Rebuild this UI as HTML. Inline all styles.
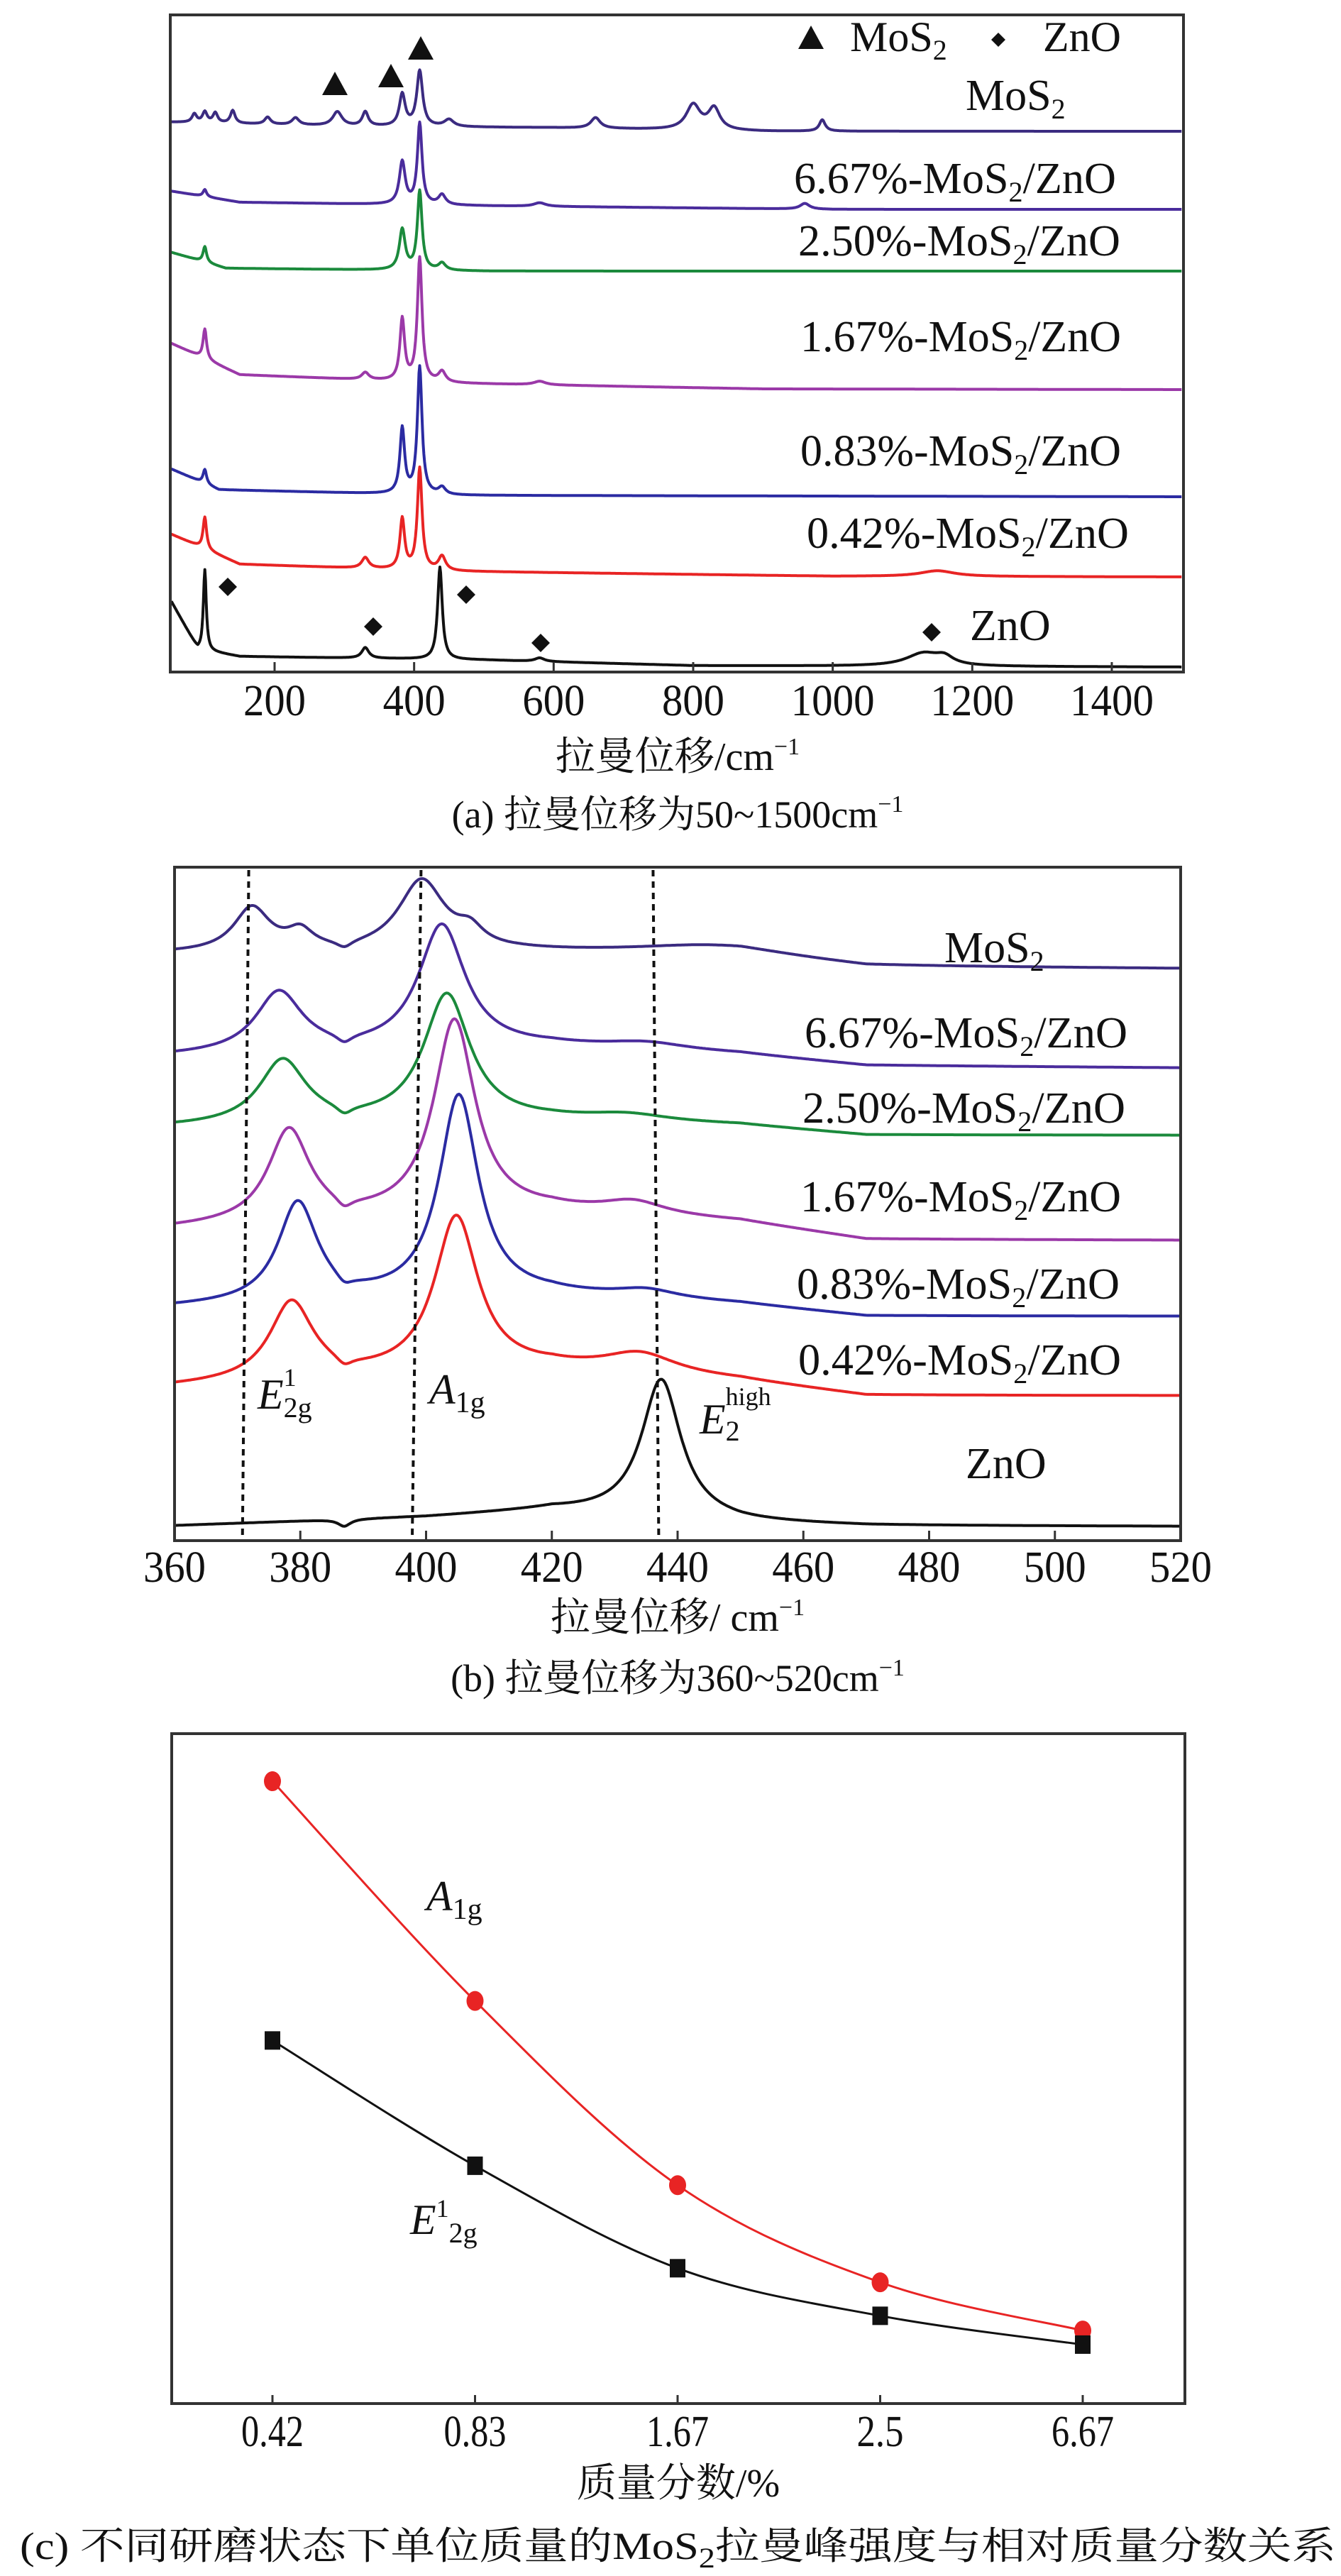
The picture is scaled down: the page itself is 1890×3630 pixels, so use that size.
<!DOCTYPE html>
<html><head><meta charset="utf-8">
<style>
html,body{margin:0;padding:0;background:#fff;}
svg{display:block;}
text{font-family:"Liberation Serif","Noto Serif CJK SC","Noto Sans CJK SC",serif;fill:#111;}
</style></head>
<body>
<svg id="fig" width="1890" height="3630" viewBox="0 0 1890 3630" xmlns="http://www.w3.org/2000/svg">
<rect width="1890" height="3630" fill="#fff"/>
<g id="pa"></g>
<g id="pb"></g>
<g id="pc"></g>
</svg>
<script>
// ---------- Panel A data ----------
const aTicks = [200,400,600,800,1000,1200,1400];
const aNames = ["MoS2","6.67%","2.50%","1.67%","0.83%","0.42%","ZnO"];
const aColors = ["#3b2b80","#4a2c9c","#1b8a3c","#9b39a8","#2b2ba2","#e82424","#111111"];
// baseline points [wavenumber, y]
const aBase = [
 [[50,172],[300,178],[600,180],[900,185],[1500,185]],
 [[50,269],[150,285],[500,290],[1000,295],[1500,295]],
 [[50,355],[130,378],[500,382],[1500,382]],
 [[50,483],[150,528],[450,540],[900,548],[1500,549]],
 [[50,660],[120,690],[450,698],[1500,700]],
 [[50,752],[150,795],[450,805],[1000,812],[1500,813]],
 [[50,844],[90,915],[150,925],[500,930],[800,938],[1500,940]]
];
// peaks [position, height, halfwidth]
const aPeaks = [
 [[85,12,4],[100,15,4],[115,14,4],[140,18,4],[190,10,5],[230,10,6],[290,20,8],[330,20,5],[383,45,5],[408,78,5],[450,10,8],[660,15,8],[800,35,12],[830,30,10],[985,16,5]],
 [[100,10,3],[383,60,5],[408,114,4],[440,14,6],[580,5,10],[960,8,8]],
 [[100,22,3],[383,57,5],[408,111,4],[440,10,6]],
 [[100,42,3],[330,10,6],[383,87,4],[408,174,4],[440,15,6],[580,5,10]],
 [[100,20,3],[383,92,4],[408,179,4],[440,10,6]],
 [[100,45,3],[330,15,6],[383,71,4],[408,143,4],[440,20,6],[1150,8,30]],
 [[100,114,2.5],[330,15,6],[437,130,4],[580,5,8],[1130,18,30],[1160,10,15]]
];
// ---------- Panel B data ----------
const bTicks = [360,380,400,420,440,460,480,500,520];
const bNames = ["MoS2","6.67%","2.50%","1.67%","0.83%","0.42%","ZnO"];
const bBase = [
 [[360,1344],[415,1342],[450,1345],[470,1362],[520,1365]],
 [[360,1489],[420,1476],[450,1486],[470,1502],[520,1505]],
 [[360,1589],[420,1580],[450,1586],[470,1600],[520,1600]],
 [[360,1732],[420,1708],[450,1722],[470,1747],[520,1748]],
 [[360,1843],[420,1826],[450,1838],[470,1855],[520,1855]],
 [[360,1955],[420,1930],[450,1946],[470,1967],[520,1967]],
 [[360,2150],[400,2138],[420,2128],[450,2146],[470,2150],[520,2151]]
];
const bPeaks = [
 [[372.3,62,3.5],[380,25,2.5],[387,-10,1.5],[399.3,100,4.5],[407,22,2.5],[445,12,15]],
 [[376.6,85,4.5],[387,-12,1.5],[402.5,175,4.5],[435,10,8]],
 [[377.2,90,4.5],[387,-12,1.5],[403.3,180,4.5],[432,10,8]],
 [[378.2,130,4],[387,-14,1.5],[404.5,275,4],[433,18,6]],
 [[379.6,140,3.8],[387,-12,1.5],[405.2,285,3.8],[435,12,6]],
 [[378.6,110,4.2],[387,-12,1.5],[404.8,220,4.2],[434,28,7]],
 [[387,-10,1.2],[437.4,195,3.8]]
];
const bDash = [[371.8,370.8],[399.2,397.8],[436.1,437.0]];
// ---------- Panel C data ----------
const cCats = ["0.42","0.83","1.67","2.5","6.67"];
const cA1g = [92.9,60.1,32.6,18.1,10.9];
const cE2g = [54.2,35.5,20.2,13.1,8.8];

const NS="http://www.w3.org/2000/svg";
function mk(parent,tag,attrs){const e=document.createElementNS(NS,tag);for(const k in attrs)e.setAttribute(k,attrs[k]);parent.appendChild(e);return e;}
function interp(pts,x){if(x<=pts[0][0])return pts[0][1];for(let i=1;i<pts.length;i++){if(x<=pts[i][0]){const t=(x-pts[i-1][0])/(pts[i][0]-pts[i-1][0]);return pts[i-1][1]+t*(pts[i][1]-pts[i-1][1]);}}return pts[pts.length-1][1];}
function lor(peaks,x){let s=0;for(const p of peaks){const d=(x-p[0])/p[2];s+=p[1]/(1+d*d);}return s;}
function txt(parent,x,y,str,size,opts){const t=mk(parent,'text',Object.assign({x:x,y:y,'font-size':size},opts||{}));t.innerHTML=str;return t;}
const sub2=(s,rest)=>`<tspan dy="12" font-size="40">${s}</tspan><tspan dy="-12">${rest||''}</tspan>`;

// ================= PANEL A =================
(function(){
 const g=document.getElementById('pa');
 const X=v=>387+(v-200)*0.9833;
 const L=240,R=1668,T=21,B=947;
 for(let s=0;s<aBase.length;s++){
  let d='';
  for(let v=52;v<=1500;v+=1){const y=interp(aBase[s],v)-lor(aPeaks[s],v);d+=(v===52?'M':'L')+X(v).toFixed(1)+','+y.toFixed(1);}
  const p=mk(g,'path',{d:d,fill:'none',stroke:aColors[s],'stroke-width':4,'stroke-linejoin':'round'});
  
  
 }
 const box=mk(g,'rect',{x:L,y:T,width:R-L,height:B-T,fill:'none',stroke:'#333',"stroke-width":4});
 
 for(const t of aTicks){
  const tk=mk(g,'line',{x1:X(t),x2:X(t),y1:B,y2:B-14,stroke:'#333','stroke-width':3});
  
  const w=t>=1000?118:88;
  const lb=txt(g,X(t),1008,String(t),62,{'text-anchor':'middle',textLength:w,lengthAdjust:'spacingAndGlyphs'});
  
 }
 const tri=[[472,119],[551,108],[593,69],[1143,54]];
 for(const m of tri){const e=mk(g,'path',{d:`M${m[0]},${m[1]-18}L${m[0]+18},${m[1]+15}L${m[0]-18},${m[1]+15}Z`,fill:'#111'});}
 const dia=[[321,827],[526,883],[657,838],[762,906],[1313,891],[1407,56]];
 for(const m of dia){const r=m[1]===56?10:13;const e=mk(g,'path',{d:`M${m[0]},${m[1]-r}L${m[0]+r},${m[1]}L${m[0]},${m[1]+r}L${m[0]-r},${m[1]}Z`,fill:'#111'});}
 let t;
 t=txt(g,1198,72,'MoS'+sub2('2'),60,{});
 t=txt(g,1470,72,'ZnO',60,{textLength:110,lengthAdjust:'spacingAndGlyphs'});
 const lab=[[1361,155,'MoS'+sub2('2'),null],[1119,272,'6.67%-MoS'+sub2('2','/ZnO'),454],[1125,360,'2.50%-MoS'+sub2('2','/ZnO'),454],[1128,495,'1.67%-MoS'+sub2('2','/ZnO'),452],[1128,656,'0.83%-MoS'+sub2('2','/ZnO'),452],[1137,772,'0.42%-MoS'+sub2('2','/ZnO'),454],[1367,902,'ZnO',null]];
 for(const l of lab){const o=l[3]?{textLength:l[3],lengthAdjust:'spacingAndGlyphs'}:{};t=txt(g,l[0],l[1],l[2],62,o);}
 t=txt(g,955,1085,'拉曼位移/cm<tspan dy="-22" font-size="34">−1</tspan>',56,{'text-anchor':'middle'});
 t=txt(g,955,1166,'(a) 拉曼位移为50~1500cm<tspan dy="-22" font-size="34">−1</tspan>',54,{'text-anchor':'middle'});
})();

// ================= PANEL B =================
(function(){
 const g=document.getElementById('pb');
 const X=v=>246+(v-360)*8.8625;
 const L=246,R=1664,T=1222,B=2171;
 for(let s=0;s<bBase.length;s++){
  let d='';
  for(let v=360;v<=520;v+=0.25){const y=interp(bBase[s],v)-lor(bPeaks[s],v);d+=(v===360?'M':'L')+X(v).toFixed(1)+','+y.toFixed(1);}
  const p=mk(g,'path',{d:d,fill:'none',stroke:aColors[s],'stroke-width':4,'stroke-linejoin':'round'});
  
  
 }
 for(const dl of bDash){const e=mk(g,'line',{x1:X(dl[0]),y1:T+4,x2:X(dl[1]),y2:B-4,stroke:'#111','stroke-width':4,'stroke-dasharray':'9 7'});}
 const box=mk(g,'rect',{x:L,y:T,width:R-L,height:B-T,fill:'none',stroke:'#333',"stroke-width":4});
 
 for(const t of bTicks){
  const tk=mk(g,'line',{x1:X(t),x2:X(t),y1:B,y2:B-14,stroke:'#333','stroke-width':3});
  
  const lb=txt(g,X(t),2229,String(t),62,{'text-anchor':'middle',textLength:88,lengthAdjust:'spacingAndGlyphs'});
  
 }
 let t;
 const lab=[[1331,1356,'MoS'+sub2('2'),null],[1134,1476,'6.67%-MoS'+sub2('2','/ZnO'),455],[1131,1582,'2.50%-MoS'+sub2('2','/ZnO'),455],[1128,1707,'1.67%-MoS'+sub2('2','/ZnO'),452],[1123,1830,'0.83%-MoS'+sub2('2','/ZnO'),455],[1125,1937,'0.42%-MoS'+sub2('2','/ZnO'),455],[1361,2083,'ZnO',null]];
 for(const l of lab){const o=l[3]?{textLength:l[3],lengthAdjust:'spacingAndGlyphs'}:{};t=txt(g,l[0],l[1],l[2],62,o);}
 t=txt(g,363,1985,'<tspan font-style="italic">E</tspan><tspan dy="12" font-size="40">2g</tspan><tspan dx="-40" dy="-44" font-size="36">1</tspan>',60,{});
 t=txt(g,605,1978,'<tspan font-style="italic">A</tspan><tspan dy="12" font-size="42">1g</tspan>',60,{});
 t=txt(g,986,2020,'<tspan font-style="italic">E</tspan><tspan dy="10" font-size="40">2</tspan><tspan dx="-20" dy="-50" font-size="36">high</tspan>',60,{});
 t=txt(g,955,2298,'拉曼位移/ cm<tspan dy="-22" font-size="34">−1</tspan>',56,{'text-anchor':'middle'});
 t=txt(g,955,2383,'(b) 拉曼位移为360~520cm<tspan dy="-22" font-size="34">−1</tspan>',54,{'text-anchor':'middle'});
})();

// ================= PANEL C =================
(function(){
 const g=document.getElementById('pc');
 const L=242,R=1670,T=2443,B=3387;
 const X=i=>384+i*285.5;
 const Y=v=>B-v/100*(B-T);
 function smooth(vals){
  const p=vals.map((v,i)=>[X(i),Y(v)]);
  let d='M'+p[0][0]+','+p[0][1];
  for(let i=0;i<p.length-1;i++){
   const p0=p[Math.max(0,i-1)],p1=p[i],p2=p[i+1],p3=p[Math.min(p.length-1,i+2)];
   const c1=[p1[0]+(p2[0]-p0[0])/6,p1[1]+(p2[1]-p0[1])/6];
   const c2=[p2[0]-(p3[0]-p1[0])/6,p2[1]-(p3[1]-p1[1])/6];
   d+=`C${c1[0].toFixed(1)},${c1[1].toFixed(1)} ${c2[0].toFixed(1)},${c2[1].toFixed(1)} ${p2[0].toFixed(1)},${p2[1].toFixed(1)}`;
  }
  return d;
 }
 const box=mk(g,'rect',{x:L,y:T,width:R-L,height:B-T,fill:'none',stroke:'#333',"stroke-width":4});
 
 let e=mk(g,'path',{d:smooth(cA1g),fill:'none',stroke:'#e82424','stroke-width':3});
 
 e=mk(g,'path',{d:smooth(cE2g),fill:'none',stroke:'#111','stroke-width':3});
 
 cA1g.forEach((v,i)=>{const c=mk(g,'ellipse',{cx:X(i),cy:Y(v),rx:12,ry:14,fill:'#e82424'});});
 cE2g.forEach((v,i)=>{const c=mk(g,'rect',{x:X(i)-11,y:Y(v)-13,width:22,height:26,fill:'#111'});});
 cCats.forEach((c,i)=>{
  const tk=mk(g,'line',{x1:X(i),x2:X(i),y1:B,y2:B-12,stroke:'#333','stroke-width':3});
  
  const lb=txt(g,X(i),3447,c,62,{'text-anchor':'middle',textLength:c.length*22,lengthAdjust:'spacingAndGlyphs'});
  
 });
 let t=txt(g,601,2692,'<tspan font-style="italic">A</tspan><tspan dy="12" font-size="42">1g</tspan>',60,{});
 t=txt(g,578,3148,'<tspan font-style="italic">E</tspan><tspan dy="-24" font-size="36">1</tspan><tspan dy="36" font-size="40">2g</tspan>',60,{});
 t=txt(g,956,3518,'质量分数/%',56,{'text-anchor':'middle'});
 t=txt(g,28,3606,'(c) 不同研磨状态下单位质量的MoS'+sub2('2','拉曼峰强度与相对质量分数关系'),54,{textLength:1855,lengthAdjust:'spacingAndGlyphs'});
})();
</script>
</body></html>
